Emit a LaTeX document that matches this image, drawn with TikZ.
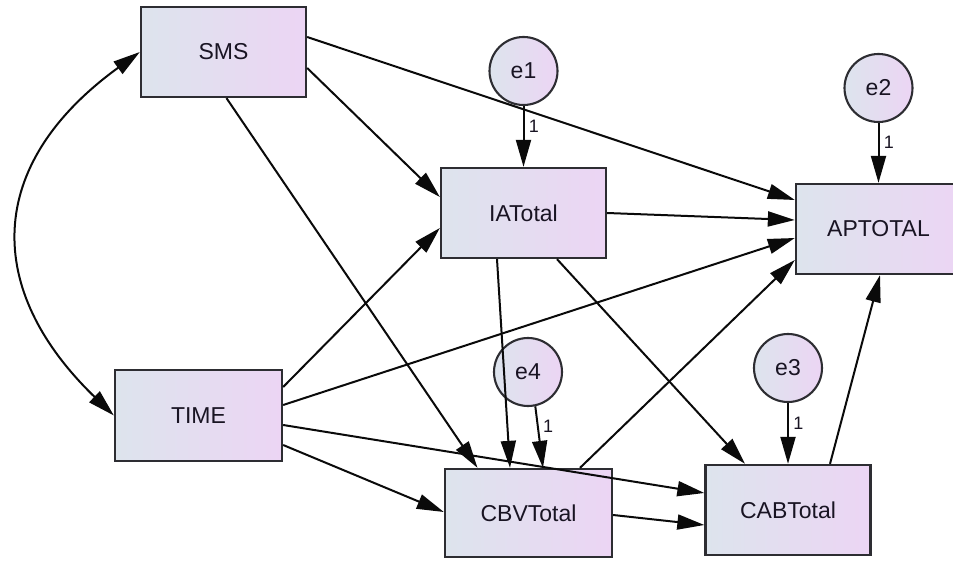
\documentclass[tikz,border=0pt]{standalone}
\usepackage{fontspec}
\setmainfont{Liberation Sans}
\usetikzlibrary{arrows.meta}
\definecolor{boxL}{RGB}{221,228,237}
\definecolor{boxR}{RGB}{236,213,244}
\definecolor{edgeC}{RGB}{10,10,10}
\definecolor{bordC}{RGB}{45,45,50}
\definecolor{txtC}{RGB}{25,20,35}
\begin{document}
\begin{tikzpicture}[x=1pt,y=1pt,
  varbox/.style={draw=bordC, line width=2.3pt, left color=boxL, right color=boxR,
    minimum width=165pt, minimum height=90pt, inner sep=0pt,
    font=\fontsize{23}{27}\selectfont, text=txtC},
  errc/.style={circle, draw=bordC, line width=2.1pt, left color=boxL, right color=boxR,
    minimum size=68pt, inner sep=0pt, font=\fontsize{23}{27}\selectfont, text=txtC},
  conn/.style={line width=2pt, draw=edgeC, -{Triangle[length=27pt,width=15pt]}},
  onelab/.style={font=\fontsize{18}{20}\selectfont, text=txtC, right=1pt, pos=0.33}
]
\useasboundingbox (0,0) rectangle (953,560);
\clip (0,0) rectangle (953,560);

\node[varbox] (SMS)  at (223.5,508) {SMS};
\node[varbox] (IA)   at (523.5,347) {IATotal};
\node[varbox] (AP)   at (878.5,331) {APTOTAL};
\node[varbox, minimum width=167pt, minimum height=91pt] (TIME) at (198.5,144.5) {TIME};
\node[varbox, minimum width=167pt, minimum height=88pt] (CBV)  at (528.5,47) {CBVTotal};
\node[varbox] (CAB)  at (788,50) {CABTotal};

\node[errc] (e1) at (523.5,489) {e1};
\node[errc] (e2) at (878.5,472) {e2};
\node[errc] (e4) at (528,188) {e4};
\node[errc] (e3) at (788,192) {e3};

% error terms
\draw[conn] (e1) -- (IA) node[onelab] {1};
\draw[conn] (e2) -- (AP) node[onelab] {1};
\draw[conn] (e4.-78) -- ([xshift=14.5pt]CBV.north) node[onelab] {1};
\draw[conn] (e3) -- (CAB) node[onelab] {1};

% SMS paths
\draw[conn] ([yshift=15pt]SMS.east) -- ([yshift=29pt]AP.west);
\draw[conn] ([yshift=-16pt]SMS.east) -- ([yshift=16pt]IA.west);
\draw[conn] ([xshift=3pt]SMS.south) -- ([xshift=-51pt]CBV.north);

% IATotal paths
\draw[conn] (IA.east) -- ([yshift=9pt]AP.west);
\draw[conn] ([xshift=-26.5pt]IA.south) -- ([xshift=-18.5pt]CBV.north);
\draw[conn] ([xshift=33.5pt]IA.south) -- ([xshift=-43pt]CAB.north);

% TIME paths
\draw[conn] ([yshift=28.5pt]TIME.east) -- ([yshift=-15pt]IA.west);
\draw[conn] ([yshift=10.5pt]TIME.east) -- ([yshift=-9pt]AP.west);
\draw[conn] ([yshift=-9.5pt]TIME.east) -- ([yshift=17pt]CAB.west);
\draw[conn] ([yshift=-29.5pt]TIME.east) -- ([yshift=1pt]CBV.west);

% CBVTotal / CABTotal paths
\draw[conn] ([xshift=51.5pt]CBV.north) -- ([yshift=-31pt]AP.west);
\draw[conn] ([yshift=-2pt]CBV.east) -- ([yshift=-15pt]CAB.west);
\draw[conn] ([xshift=42pt]CAB.north) -- ([xshift=1.5pt]AP.south);

% covariance
\draw[line width=2pt, draw=edgeC, {Triangle[length=27pt,width=15pt]}-{Triangle[length=27pt,width=15pt]}]
  (SMS.west) .. controls (-16,395) and (-16,270) .. (TIME.west);
\end{tikzpicture}
\end{document}
